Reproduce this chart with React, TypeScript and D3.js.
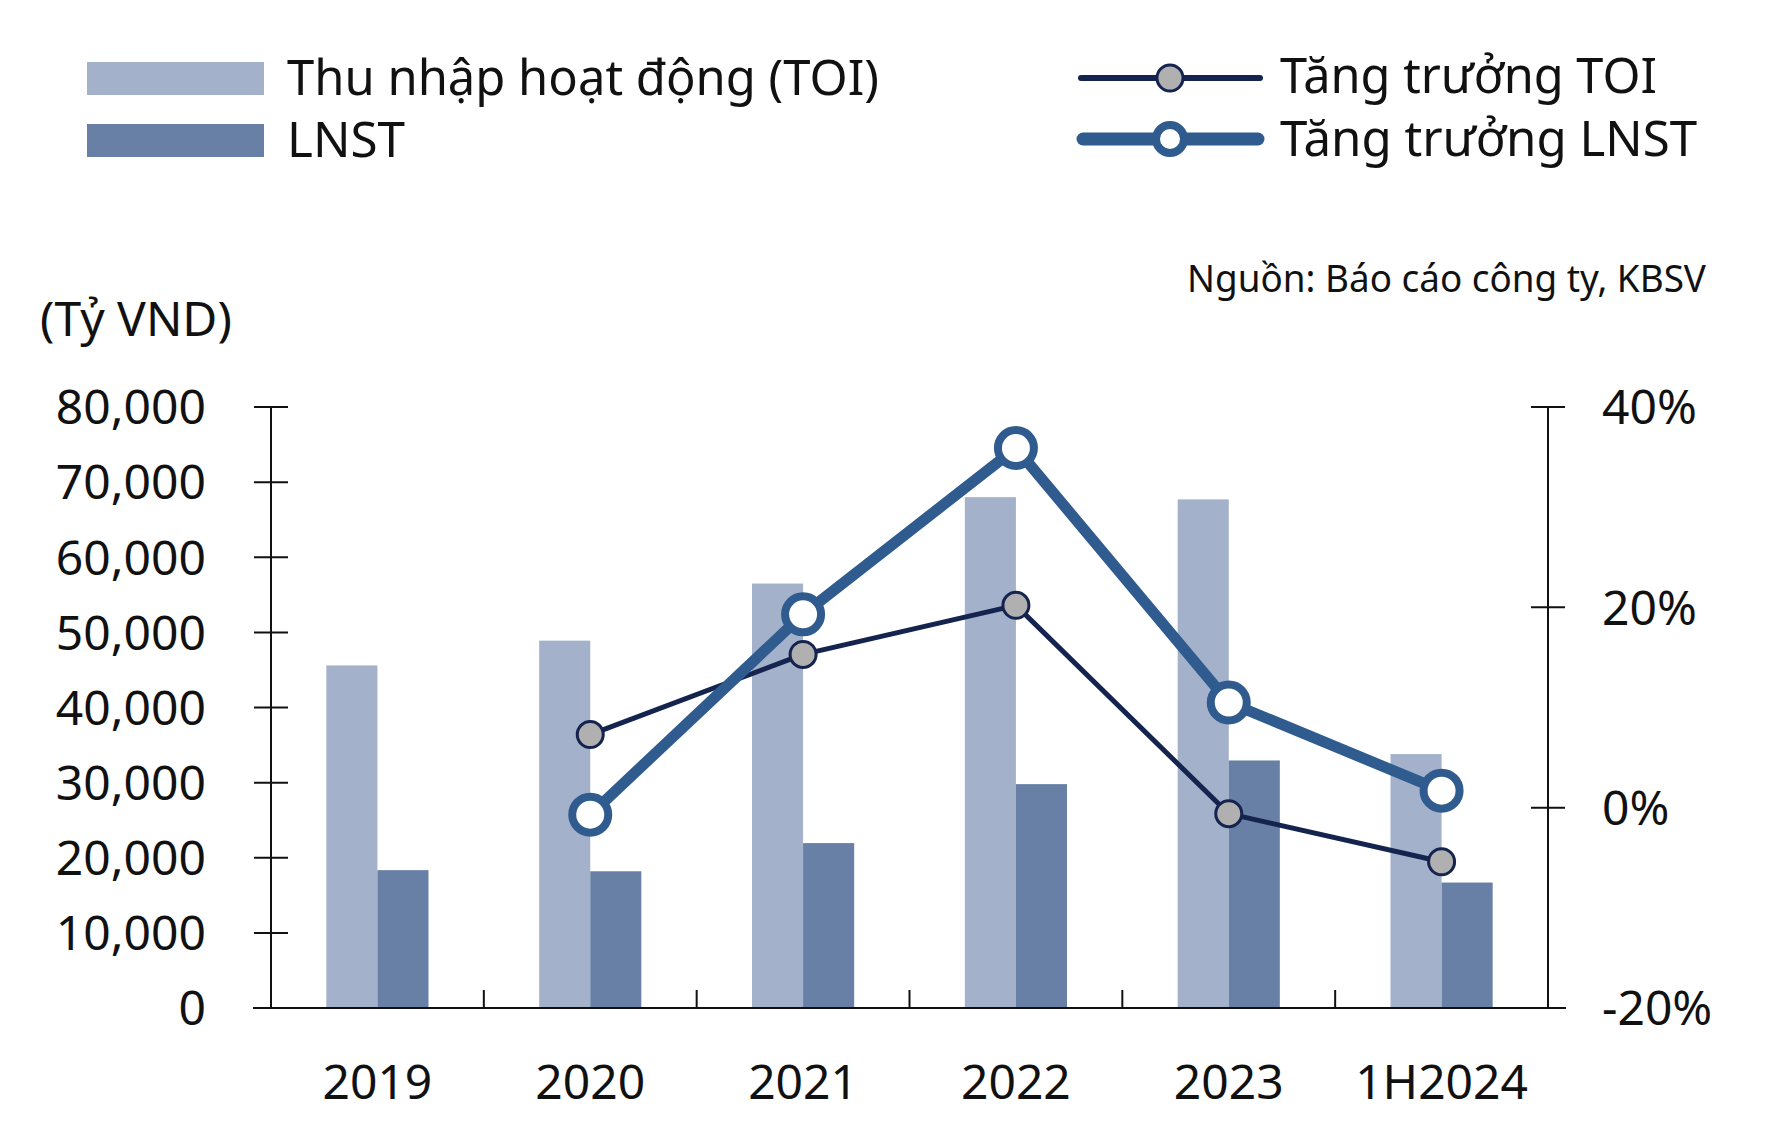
import React from "react";
import * as d3 from "d3";

const categories = ["2019", "2020", "2021", "2022", "2023", "1H2024"];
const toiValues = [45600, 48900, 56500, 68000, 67700, 33800];
const lnstValues = [18350, 18200, 21950, 29800, 32950, 16700];
const toiGrowthCats = ["2020", "2021", "2022", "2023", "1H2024"];
const toiGrowth = [7.3, 15.3, 20.2, -0.6, -5.4];
const lnstGrowth = [-0.7, 19.3, 35.9, 10.5, 1.7];
const leftTicks = [0, 10000, 20000, 30000, 40000, 50000, 60000, 70000, 80000];
const rightTicks = [-20, 0, 20, 40];

const W = 1772;
const H = 1123;
const FONT = "'Noto Sans', 'Open Sans', sans-serif";
const C_TOI = "#a3b1cb";
const C_LNST = "#6880a6";
const C_TOIG = "#15244f";
const C_LNSTG = "#2f5b8e";

export default function App() {
  const x = d3.scaleBand<string>().domain(categories).range([271, 1548]).padding(0);
  const yL = d3.scaleLinear().domain([0, 80000]).range([1008, 407]);
  const yR = d3.scaleLinear().domain([-20, 40]).range([1008, 407]);
  const bw = x.bandwidth() * 0.24;
  const cx = (c: string) => (x(c) as number) + x.bandwidth() / 2;
  const fmt = d3.format(",");

  const line = d3
    .line<[string, number]>()
    .x((d) => cx(d[0]))
    .y((d) => yR(d[1]));
  const toiPts: [string, number][] = toiGrowthCats.map((c, i) => [c, toiGrowth[i]]);
  const lnstPts: [string, number][] = toiGrowthCats.map((c, i) => [c, lnstGrowth[i]]);

  return (
    <svg
      width={W}
      height={H}
      style={{ position: "absolute", left: 0, top: 0, background: "#fff" }}
      fontFamily={FONT}
    >
      <rect x={0} y={0} width={W} height={H} fill="#fff" />
      {/* Legend */}
      <rect x={87} y={62} width={177} height={33} fill={C_TOI} />
      <rect x={87} y={124} width={177} height={33} fill={C_LNST} />
      <text x={287} y={95} fontSize={50} fill="#111" textLength={592} lengthAdjust="spacingAndGlyphs">Thu nhập hoạt động (TOI)</text>
      <text x={287} y={157} fontSize={50} fill="#111" textLength={118} lengthAdjust="spacingAndGlyphs">LNST</text>
      <line x1={1081} x2={1260} y1={78} y2={78} stroke={C_TOIG} strokeWidth={6} strokeLinecap="round" />
      <circle cx={1170} cy={78} r={13} fill="#b0b0b0" stroke={C_TOIG} strokeWidth={3} />
      <line x1={1083} x2={1258} y1={139} y2={139} stroke={C_LNSTG} strokeWidth={13} strokeLinecap="round" />
      <circle cx={1170} cy={139} r={14} fill="#fff" stroke={C_LNSTG} strokeWidth={8} />
      <text x={1280} y={93} fontSize={50} fill="#111" textLength={377} lengthAdjust="spacingAndGlyphs">Tăng trưởng TOI</text>
      <text x={1280} y={156} fontSize={50} fill="#111" textLength={417} lengthAdjust="spacingAndGlyphs">Tăng trưởng LNST</text>

      <text x={1187} y={292} fontSize={38} fill="#111" textLength={519} lengthAdjust="spacingAndGlyphs">Nguồn: Báo cáo công ty, KBSV</text>
      <text x={40} y={336} fontSize={48} fill="#111">(Tỷ VND)</text>

      {/* Bars */}
      {categories.map((c, i) => (
        <g key={c}>
          <rect x={cx(c) - bw} y={yL(toiValues[i])} width={bw} height={yL(0) - yL(toiValues[i])} fill={C_TOI} />
          <rect x={cx(c)} y={yL(lnstValues[i])} width={bw} height={yL(0) - yL(lnstValues[i])} fill={C_LNST} />
        </g>
      ))}

      {/* Left axis */}
      <line x1={271} x2={271} y1={407} y2={1008} stroke="#111" strokeWidth={2} />
      {leftTicks.map((t) => (
        <g key={t}>
          <line x1={254} x2={288} y1={yL(t)} y2={yL(t)} stroke="#111" strokeWidth={2} />
          <text x={206} y={yL(t)} dy="0.36em" fontSize={48} textAnchor="end" fill="#111">
            {fmt(t)}
          </text>
        </g>
      ))}
      {/* Right axis */}
      <line x1={1548} x2={1548} y1={407} y2={1008} stroke="#111" strokeWidth={2} />
      {rightTicks.map((t) => (
        <g key={t}>
          <line x1={1531} x2={1565} y1={yR(t)} y2={yR(t)} stroke="#111" strokeWidth={2} />
          <text x={1602} y={yR(t)} dy="0.36em" fontSize={48} textAnchor="start" fill="#111">
            {t + "%"}
          </text>
        </g>
      ))}
      {/* Bottom axis */}
      <line x1={253} x2={1566} y1={1008} y2={1008} stroke="#111" strokeWidth={2} />
      {categories.slice(1).map((c) => (
        <line key={c} x1={x(c) as number} x2={x(c) as number} y1={990} y2={1008} stroke="#111" strokeWidth={2} />
      ))}
      {categories.map((c) => (
        <text key={c} x={cx(c)} y={1099} fontSize={48} textAnchor="middle" fill="#111">
          {c}
        </text>
      ))}

      {/* Lines */}
      <path d={line(toiPts) || ""} fill="none" stroke={C_TOIG} strokeWidth={5} strokeLinejoin="round" />
      <path d={line(lnstPts) || ""} fill="none" stroke={C_LNSTG} strokeWidth={11} strokeLinejoin="round" />
      {lnstPts.map((d) => (
        <circle key={"l" + d[0]} cx={cx(d[0])} cy={yR(d[1])} r={18} fill="#fff" stroke={C_LNSTG} strokeWidth={8} />
      ))}
      {toiPts.map((d) => (
        <circle key={"t" + d[0]} cx={cx(d[0])} cy={yR(d[1])} r={13} fill="#b0b0b0" stroke={C_TOIG} strokeWidth={3} />
      ))}
    </svg>
  );
}
